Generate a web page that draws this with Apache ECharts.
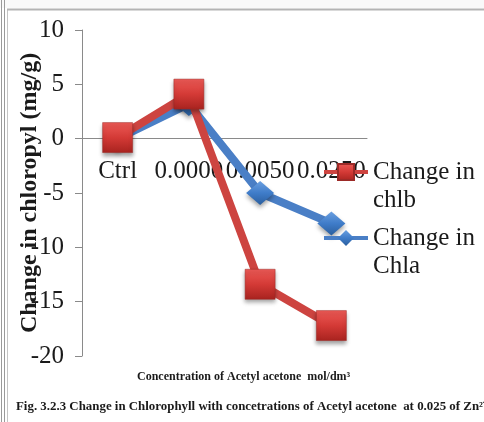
<!DOCTYPE html>
<html>
<head>
<meta charset="utf-8">
<script src="https://cdn.jsdelivr.net/npm/echarts@6/dist/echarts.min.js"></script>
<style>
  html, body { margin: 0; padding: 0; background: #ffffff; }
  #chart { width: 484px; height: 422px; }
</style>
</head>
<body>
<div id="chart"></div>
<script>
// Acetyl acetone concentrations (mol/dm3) on the category axis
var categories = ['Ctrl', '0.0000', '0.0050', '0.0250'];
// Change in chlorophyll content (mg/g)
var chlaValues = [0.0, 3.2, -5.0, -7.8];
var chlbValues = [0.1, 4.1, -13.4, -17.2];
// Value axis range and step
var yMin = -20, yMax = 10, yStep = 5;

var serif = '"Liberation Serif", "Times New Roman", serif';
var redFill = new echarts.graphic.LinearGradient(0, 0, 0, 1, [
  { offset: 0, color: '#ec5a56' },
  { offset: 0.5, color: '#d43a36' },
  { offset: 1, color: '#a8231f' }
]);
var blueFill = new echarts.graphic.LinearGradient(0, 0, 0, 1, [
  { offset: 0, color: '#6a9fe0' },
  { offset: 0.5, color: '#3f7cc9' },
  { offset: 1, color: '#2b5f9e' }
]);

var chart = echarts.init(document.getElementById('chart'), null, { renderer: 'canvas' });

// the legend label wraps onto two lines with the first line level with the icon
var legendText = {
  fontFamily: serif,
  fontSize: 25,
  color: '#1a1a1a',
  lineHeight: 28
};

// the category axis sits on the zero line of the value axis
var gridTop = 30, gridBottom = 66, plotHeight = 422 - gridTop - gridBottom;
var zeroOffset = plotHeight * (0 - yMin) / (yMax - yMin);

chart.setOption({
  backgroundColor: '#ffffff',
  animation: false,
  grid: {
    left: 82, right: 117, top: gridTop, bottom: gridBottom,
    containLabel: false, outerBoundsMode: 'none'
  },
  title: [
    {
      text: 'Concentration of Acetyl acetone  mol/dm³',
      left: 137, top: 371, padding: 0,
      textStyle: { fontFamily: serif, fontSize: 12, fontWeight: 'bold', color: '#1a1a1a' }
    },
    {
      text: 'Fig. 3.2.3 Change in Chlorophyll with concetrations of Acetyl acetone  at 0.025 of Zn²⁺',
      left: 16, top: 400, padding: 0,
      textStyle: { fontFamily: serif, fontSize: 12.9, fontWeight: 'bold', color: '#1a1a1a' }
    }
  ],
  legend: [
    {
      data: ['Change in chlb'],
      left: 322, top: 130, padding: 0,
      itemWidth: 44, itemHeight: 20,
      formatter: function () { return ' \nChange in\nchlb'; },
      lineStyle: { width: 4 },
      textStyle: legendText
    },
    {
      data: ['Change in Chla'],
      left: 322, top: 196, padding: 0,
      itemWidth: 44, itemHeight: 20,
      formatter: function () { return ' \nChange in\nChla'; },
      lineStyle: { width: 4 },
      textStyle: legendText
    }
  ],
  xAxis: {
    type: 'category',
    data: categories,
    boundaryGap: true,
    position: 'bottom',
    offset: -zeroOffset,
    axisLine: { onZero: false, lineStyle: { color: '#8a8a8a', width: 1 } },
    axisTick: { show: false },
    axisLabel: { fontFamily: serif, fontSize: 25, color: '#1a1a1a', margin: 20, interval: 0 },
    splitLine: { show: false }
  },
  yAxis: {
    type: 'value',
    min: yMin, max: yMax, interval: yStep,
    name: 'Change in chloropyl (mg/g)',
    nameLocation: 'middle',
    nameRotate: 90,
    nameGap: 40,
    nameMoveOverlap: false,
    nameTextStyle: { fontFamily: serif, fontSize: 24, fontWeight: 'bold', color: '#1a1a1a' },
    axisLine: { show: true, lineStyle: { color: '#8a8a8a', width: 1 } },
    axisTick: { show: true, length: 7, lineStyle: { color: '#8a8a8a' } },
    axisLabel: { fontFamily: serif, fontSize: 25, color: '#1a1a1a', margin: 18 },
    splitLine: { show: false }
  },
  series: [
    {
      name: 'Change in Chla',
      type: 'line',
      data: chlaValues,
      symbol: 'diamond',
      symbolSize: [28, 24],
      lineStyle: { color: '#4a7fc6', width: 8 },
      itemStyle: {
        color: blueFill, opacity: 1,
        shadowBlur: 4, shadowOffsetY: 3, shadowColor: 'rgba(0,0,0,0.35)'
      },
      z: 2
    },
    {
      name: 'Change in chlb',
      type: 'line',
      data: chlbValues,
      symbol: 'rect',
      symbolSize: 30,
      lineStyle: { color: '#cd4440', width: 8 },
      itemStyle: {
        color: redFill, opacity: 1,
        borderColor: '#9c2a27', borderWidth: 0.5,
        shadowBlur: 4, shadowOffsetY: 3, shadowColor: 'rgba(0,0,0,0.35)'
      },
      z: 3
    }
  ],
  graphic: [
    { type: 'rect', shape: { x: 0, y: 0, width: 484, height: 8 }, style: { fill: '#f9f9f9' }, silent: true, z: -10 },
    { type: 'line', shape: { x1: 1.5, y1: 0, x2: 1.5, y2: 422 }, style: { stroke: '#9a9a9a', lineWidth: 1 }, silent: true },
    { type: 'line', shape: { x1: 4.5, y1: 0, x2: 4.5, y2: 422 }, style: { stroke: '#9a9a9a', lineWidth: 1 }, silent: true },
    { type: 'line', shape: { x1: 7.5, y1: 9, x2: 7.5, y2: 422 }, style: { stroke: '#c4c4c4', lineWidth: 1 }, silent: true },
    { type: 'line', shape: { x1: 7, y1: 9.5, x2: 484, y2: 9.5 }, style: { stroke: '#b4b4b4', lineWidth: 2 }, silent: true }
  ]
});
</script>
</body>
</html>
